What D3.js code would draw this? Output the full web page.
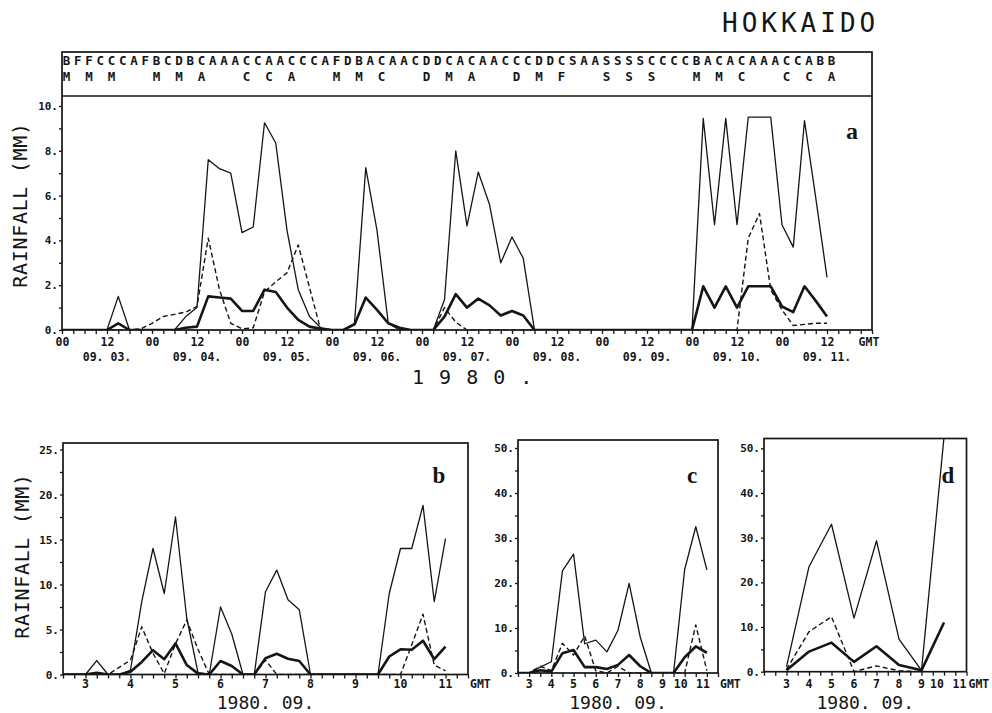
<!DOCTYPE html>
<html><head><meta charset="utf-8">
<script src="https://cdn.jsdelivr.net/npm/d3@7"></script>
<style>body{margin:0;background:#fff} svg{display:block}</style>
</head><body>
<svg id="c" width="992" height="713"></svg>
<script>
// ---------------- DATA ----------------
const titleText = "HOKKAIDO";
const yTitle = "RAINFALL (MM)";
const yearText = "1 9 8 0 .";
const monthText = "1980. 09.";
const stripRow1 = "BFFCCCAFBCDBCAAACCAACCCAFDBACAACDDCACAACCCDDCSAASSSSCCCCBACACAAACCABB";
const stripRow2 = "M M M   M M A   C C A   M M C   D M A   D M F   S S S   M M C   C C A";
const hourLabels = ["00", "12"];
const dateLabels = ["09. 03.", "09. 04.", "09. 05.", "09. 06.", "09. 07.", "09. 08.", "09. 09.", "09. 10.", "09. 11."];
const dayLabels = ["3", "4", "5", "6", "7", "8", "9", "10", "11"];
const yTicksA = [0, 2, 4, 6, 8, 10];
const yTicksB = [0, 5, 10, 15, 20, 25];
const yTicksCD = [0, 10, 20, 30, 40, 50];

// panel a : 3-hourly from 09.03 00 GMT
const aThin = [0,0,0,0,0,1.5,0,0,0,0,0,0.6,1.0,7.6,7.2,7.0,4.35,4.6,9.25,8.35,4.45,1.8,0.6,0.1,0,0,0.3,7.25,4.45,0.3,0,0,0,0,1.35,8.0,4.65,7.05,5.6,3.0,4.15,3.2,0,0,0,0,0,0,0,0,0,0,0,0,0,0,0,9.45,4.7,9.45,4.7,9.5,9.5,9.5,4.7,3.7,9.35,5.9,2.35];
const aThick = [0,0,0,0,0,0.3,0,0,0,0,0,0.1,0.15,1.5,1.45,1.4,0.85,0.85,1.8,1.7,1.0,0.45,0.15,0.05,0,0,0.25,1.45,0.9,0.3,0.1,0,0,0,0.6,1.6,1.0,1.4,1.1,0.65,0.85,0.65,0,0,0,0,0,0,0,0,0,0,0,0,0,0,0,1.95,1.0,1.95,1.0,1.95,1.95,1.95,1.05,0.8,1.95,1.3,0.6];
const aDash = [0,0,0,0,0,0,0,0.05,0.3,0.6,0.7,0.8,1.05,4.1,1.8,0.3,0.05,0.1,1.7,2.15,2.55,3.8,1.9,0,0,0,0,0,0,0,0,0,0,0,1.0,0.35,0,0,0,0,0,0,0,0,0,0,0,0,0,0,0,0,0,0,0,0,0,0,0,0,0,4.1,5.2,1.8,0.9,0.2,0.25,0.3,0.3];

// panel b : 6-hourly from 09.03 00 GMT
const bThin = [0,0,0,1.55,0,0,0.5,8.1,14.0,9.0,17.5,6.25,0.2,0,7.5,4.5,0,0,9.2,11.6,8.3,7.2,0,0,0,0,0,0,0,9.0,14.0,14.0,18.8,8.1,15.1];
const bThick = [0,0,0,0.2,0,0,0.3,1.4,2.7,1.7,3.45,1.05,0.1,0,1.5,0.95,0,0,1.8,2.3,1.75,1.5,0,0,0,0,0,0,0,2.0,2.8,2.75,3.75,1.7,3.1];
const bDash = [0,0,0,0.2,0,0.8,1.6,5.3,2.35,0.1,3.4,6.05,2.8,0,0,0,0,0,1.6,0,0,0,0,0,0,0,0,0,0,0,0,3.3,6.7,1.05,0.4];

// panel c : 12-hourly from 09.03 00 GMT
const cThin = [0,0,1.3,2.5,22.7,26.4,6.5,7.3,4.7,9.5,19.9,8.0,0,0,0,23.0,32.5,22.9];
const cThick = [0,0,0.6,0.3,4.4,5.1,1.3,1.3,0.9,1.8,4.0,1.5,0,0,0,3.5,5.9,4.5];
const cDash = [0,0,1.5,0.5,6.6,4.0,8.2,0.5,0,1.5,0,0,0,0,0,0,10.7,0.5];

// panel d : daily, days 3 .. 10
const dThin = [1.1,23.5,33.0,12.0,29.3,7.3,0.3,52.5];
const dThick = [0.3,4.5,6.5,2.2,5.7,1.5,0.3,11.0];
const dDash = [0.5,8.95,12.3,0,1.3,0.2,0];

// ---------------- DRAWING ----------------
const ink = "#151515";
const mono = "'DejaVu Sans Mono', monospace";
const serif = "'Liberation Serif', 'DejaVu Serif', serif";
const svg = d3.select("#c");
svg.append("rect").attr("width", 992).attr("height", 713).attr("fill", "#fff");

const styles = {
  thin: {w: 1.3, dash: null},
  thick: {w: 2.6, dash: null},
  dash: {w: 1.4, dash: "5,3"}
};

function series(g, x, y, pts, st) {
  const line = d3.line().x(d => x(d[0])).y(d => y(d[1]));
  g.append("path").datum(pts).attr("d", line)
    .attr("fill", "none").attr("stroke", ink)
    .attr("stroke-width", styles[st].w)
    .attr("stroke-dasharray", styles[st].dash)
    .attr("stroke-linejoin", "round");
}

function styleAxis(sel, size, bold) {
  sel.select(".domain").remove();
  sel.selectAll("line").attr("stroke", ink).attr("stroke-width", 1.3);
  sel.selectAll("text").attr("fill", ink).attr("font-family", mono)
    .attr("font-size", size).attr("font-weight", bold ? "bold" : "normal");
}

function frame(g, L, R, T, B, id) {
  g.append("clipPath").attr("id", id).append("rect")
    .attr("x", L).attr("y", T).attr("width", R - L).attr("height", B - T);
  g.append("rect").attr("x", L).attr("y", T).attr("width", R - L).attr("height", B - T)
    .attr("fill", "none").attr("stroke", ink).attr("stroke-width", 1.7);
}

function yAxis(g, y, L, ticks, minor) {
  const maj = g.append("g").attr("transform", `translate(${L},0)`)
    .call(d3.axisLeft(y).tickValues(ticks).tickSize(3).tickPadding(1).tickFormat(d => d + "."));
  styleAxis(maj, 11, true);
  const mn = g.append("g").attr("transform", `translate(${L},0)`)
    .call(d3.axisLeft(y).tickValues(minor).tickSize(3).tickFormat(""));
  styleAxis(mn, 11, true);
}

function yLabel(g, cx, cy) {
  g.append("text").attr("transform", `translate(${cx},${cy}) rotate(-90)`)
    .attr("text-anchor", "middle").attr("font-family", mono).attr("font-size", 20)
    .attr("letter-spacing", 0.7).attr("fill", ink).text(yTitle);
}

// Title
svg.append("text").attr("x", 722).attr("y", 32).attr("font-family", mono)
  .attr("font-size", 26).attr("letter-spacing", 4).attr("fill", ink).text(titleText);

// ---------- Panel a ----------
const A = {l: 62, r: 872, t: 52, s: 96, b: 330};
const ga = svg.append("g");
const xa = d3.scaleLinear().domain([0, 216]).range([A.l, A.r]);
const ya = d3.scaleLinear().domain([0, 10]).range([A.b, 106]);
frame(ga, A.l, A.r, A.t, A.b, "clipA");
ga.append("line").attr("x1", A.l).attr("x2", A.r).attr("y1", A.s).attr("y2", A.s)
  .attr("stroke", ink).attr("stroke-width", 1.6);

// classification strip
[stripRow1, stripRow2].forEach((row, r) => {
  ga.append("g").selectAll("text").data(row.split("").map((c, i) => ({c, i})).filter(d => d.c !== " "))
    .join("text").attr("x", d => xa(3 * d.i) + 4.5).attr("y", r === 0 ? 65 : 81)
    .attr("text-anchor", "middle").attr("font-family", mono).attr("font-size", 12.5)
    .attr("font-weight", "bold").attr("fill", ink).text(d => d.c);
});

const pa = ga.append("g").attr("clip-path", "url(#clipA)");
series(pa, xa, ya, aThin.map((v, i) => [3 * i, v]), "thin");
series(pa, xa, ya, aDash.map((v, i) => [3 * i, v]), "dash");
series(pa, xa, ya, aThick.map((v, i) => [3 * i, v]), "thick");

const axA1 = ga.append("g").attr("transform", `translate(0,${A.b})`)
  .call(d3.axisBottom(xa).tickValues(d3.range(0, 217, 3)).tickSize(4).tickFormat(""));
styleAxis(axA1, 11, true);
const axA2 = ga.append("g").attr("transform", `translate(0,${A.b})`)
  .call(d3.axisBottom(xa).tickValues(d3.range(0, 205, 12)).tickSize(0).tickPadding(8)
    .tickFormat(h => hourLabels[(h / 12) % 2]));
styleAxis(axA2, 11.5, true);
ga.append("g").selectAll("text").data(dateLabels).join("text")
  .attr("x", (d, i) => xa(12 + 24 * i)).attr("y", 361).attr("text-anchor", "middle")
  .attr("font-family", mono).attr("font-size", 11.5).attr("font-weight", "bold").attr("fill", ink).text(d => d);
ga.append("text").attr("x", 869).attr("y", 346).attr("text-anchor", "middle")
  .attr("font-family", mono).attr("font-size", 11.5).attr("font-weight", "bold").attr("fill", ink).text("GMT");
ga.append("text").attr("x", 412).attr("y", 384).attr("font-family", mono).attr("font-size", 20)
  .attr("letter-spacing", 1.5).attr("fill", ink).text(yearText);
yAxis(ga, ya, A.l, yTicksA, [1, 3, 5, 7, 9]);
yLabel(ga, 27, 205);
ga.append("text").attr("x", 852).attr("y", 139).attr("text-anchor", "middle")
  .attr("font-family", serif).attr("font-weight", "bold").attr("font-size", 24).attr("fill", ink).text("a");

// ---------- lower panels ----------
function lowerPanel(cfg) {
  const g = svg.append("g");
  const x = d3.scaleLinear().domain(cfg.xd).range([cfg.l, cfg.r]);
  const y = d3.scaleLinear().domain([0, cfg.ymax]).range([cfg.b, cfg.ytop]);
  frame(g, cfg.l, cfg.r, cfg.t, cfg.b, cfg.id);
  const p = g.append("g").attr("clip-path", `url(#${cfg.id})`);
  series(p, x, y, cfg.thin.map((v, i) => [cfg.x0 + i * cfg.step, v]), "thin");
  series(p, x, y, cfg.dash.map((v, i) => [cfg.x0 + i * cfg.step, v]), "dash");
  series(p, x, y, cfg.thick.map((v, i) => [cfg.x0 + i * cfg.step, v]), "thick");
  const ax1 = g.append("g").attr("transform", `translate(0,${cfg.b})`)
    .call(d3.axisBottom(x).tickValues(d3.range(cfg.xd[0], cfg.xd[1] + 0.001, cfg.tick)).tickSize(4).tickFormat(""));
  styleAxis(ax1, 11, true);
  g.append("g").selectAll("text").data(dayLabels).join("text")
    .attr("x", (d, i) => x(3.5 + i) + (d.length > 1 ? cfg.shift2 : 0)).attr("y", 687.5).attr("text-anchor", "middle")
    .attr("font-family", mono).attr("font-size", 11.5).attr("font-weight", "bold").attr("fill", ink).text(d => d);
  g.append("text").attr("x", cfg.r + 2).attr("y", 687.5).attr("font-family", mono).attr("font-size", 11.5)
    .attr("font-weight", "bold").attr("fill", ink).text("GMT");
  g.append("text").attr("x", (cfg.l + cfg.r) / 2).attr("y", 708.5).attr("text-anchor", "middle")
    .attr("font-family", mono).attr("font-size", 18).attr("fill", ink).text(monthText);
  yAxis(g, y, cfg.l, cfg.yt, cfg.ym);
  g.append("text").attr("x", cfg.lx).attr("y", 483).attr("text-anchor", "middle")
    .attr("font-family", serif).attr("font-weight", "bold").attr("font-size", 23).attr("fill", ink).text(cfg.name);
  return g;
}

lowerPanel({id: "clipB", l: 63, r: 468, t: 443, b: 674.5, ytop: 449.5, ymax: 25, xd: [3, 12], x0: 3, step: 0.25, tick: 0.25,
  thin: bThin, thick: bThick, dash: bDash, yt: yTicksB, ym: [2.5, 7.5, 12.5, 17.5, 22.5], name: "b", lx: 439, shift2: 0});
lowerPanel({id: "clipC", l: 518, r: 718, t: 440, b: 673, ytop: 448, ymax: 50, xd: [3, 12], x0: 3, step: 0.5, tick: 0.5,
  thin: cThin, thick: cThick, dash: cDash, yt: yTicksCD, ym: [5, 15, 25, 35, 45], name: "c", lx: 692, shift2: -4});
lowerPanel({id: "clipD", l: 764, r: 966.5, t: 438.5, b: 671.7, ytop: 448.3, ymax: 50, xd: [2.5, 11.5], x0: 3.5, step: 1, tick: 0.5,
  thin: dThin, thick: dThick, dash: dDash, yt: yTicksCD, ym: [5, 15, 25, 35, 45], name: "d", lx: 948, shift2: -7});
yLabel(svg, 29, 556);
</script>
</body></html>
